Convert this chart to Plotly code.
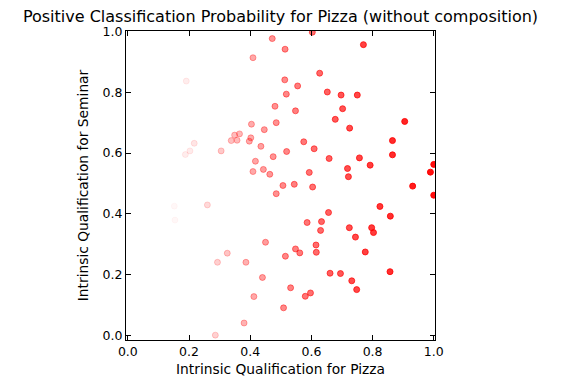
import plotly.graph_objects as go

# intrinsic qualification values
pizza = [0.603, 0.770, 0.472, 0.409, 0.191, 0.481, 0.485, 0.404, 0.446, 0.349,
         0.365, 0.338, 0.357, 0.402, 0.397, 0.217, 0.203, 0.188, 0.305, 0.435,
         0.475, 0.417, 0.409, 0.443, 0.464, 0.514, 0.627, 0.513, 0.555, 0.518,
         0.652, 0.697, 0.750, 0.548, 0.702, 0.678, 0.725, 0.905, 0.865, 0.865,
         0.575, 0.519, 0.609, 0.658, 0.757, 0.792, 0.718, 0.721, 0.593, 1.000,
         0.989, 0.507, 0.544, 0.604, 0.485, 0.931, 1.000, 0.824, 0.858, 0.656,
         0.586, 0.633, 0.630, 0.724, 0.797, 0.803, 0.744, 0.615, 0.616, 0.548,
         0.562, 0.515, 0.776, 0.661, 0.695, 0.857, 0.732, 0.748, 0.532, 0.597,
         0.580, 0.509, 0.260, 0.152, 0.154, 0.450, 0.325, 0.293, 0.386, 0.440,
         0.412, 0.380, 0.286]
seminar = [0.998, 0.957, 0.977, 0.914, 0.837, 0.754, 0.700, 0.695, 0.677, 0.659,
           0.663, 0.641, 0.642, 0.650, 0.639, 0.632, 0.607, 0.595, 0.607, 0.622,
           0.588, 0.573, 0.539, 0.546, 0.530, 0.942, 0.863, 0.841, 0.821, 0.794,
           0.801, 0.791, 0.791, 0.739, 0.746, 0.711, 0.682, 0.704, 0.641, 0.594,
           0.637, 0.605, 0.614, 0.582, 0.584, 0.560, 0.549, 0.522, 0.536, 0.5625,
           0.537, 0.493, 0.497, 0.488, 0.466, 0.491, 0.461, 0.424, 0.392, 0.404,
           0.371, 0.374, 0.345, 0.354, 0.354, 0.338, 0.323, 0.297, 0.273, 0.284,
           0.271, 0.260, 0.274, 0.204, 0.203, 0.209, 0.179, 0.150, 0.156, 0.139,
           0.128, 0.090, 0.429, 0.425, 0.379, 0.306, 0.270, 0.240, 0.240, 0.190,
           0.127, 0.040, 0.000]

ticks = [0.0, 0.2, 0.4, 0.6, 0.8, 1.0]
tick_text = ['0.0', '0.2', '0.4', '0.6', '0.8', '1.0']

# red with growing opacity, like the probability shading in the original
red_scale = [[0.0, 'rgba(255,0,0,0.0)'], [0.15, 'rgba(255,0,0,0.03)'],
             [0.2, 'rgba(255,0,0,0.08)'], [0.3, 'rgba(255,0,0,0.2)'],
             [0.4, 'rgba(255,0,0,0.33)'], [0.5, 'rgba(255,0,0,0.45)'],
             [0.6, 'rgba(255,0,0,0.56)'], [0.7, 'rgba(255,0,0,0.67)'],
             [0.8, 'rgba(255,0,0,0.77)'], [0.9, 'rgba(255,0,0,0.86)'],
             [1.0, 'rgba(255,0,0,0.95)']]

fig = go.Figure()
fig.add_trace(go.Scatter(
    x=pizza, y=seminar, mode='markers', hoverinfo='x+y',
    marker=dict(size=6, color=pizza, colorscale=red_scale, cmin=0, cmax=1,
                line=dict(width=1, color=pizza, colorscale=red_scale,
                          cmin=0, cmax=1)),
    cliponaxis=True, showlegend=False))

axis_style = dict(showline=True, linecolor='black', linewidth=1, mirror='allticks',
                  ticks='inside', ticklen=5, tickcolor='black', showgrid=False,
                  zeroline=False, tickvals=ticks, ticktext=tick_text, automargin=False,
                  tickfont=dict(size=12.5, color='black'))

# page is offset by the browser's body margin, so margins are shifted to compensate
fig.update_layout(
    width=563, height=390,
    margin=dict(l=118, r=136, t=23, b=58),
    paper_bgcolor='white', plot_bgcolor='white',
    font=dict(family='DejaVu Sans', color='black'),
    title=dict(text='Positive Classification Probability for Pizza (without composition)',
               x=0.5, xref='paper', y=0.979, yanchor='middle', automargin=False,
               font=dict(size=16, color='black')),
    xaxis=dict(range=[-0.006, 1.004], title=dict(text='Intrinsic Qualification for Pizza',
               font=dict(size=13.8), standoff=6), **axis_style),
    yaxis=dict(range=[-0.016, 1.002], title=dict(text='Intrinsic Qualification for Seminar',
               font=dict(size=13.8), standoff=10), **axis_style),
)

fig.write_html("out.html")
